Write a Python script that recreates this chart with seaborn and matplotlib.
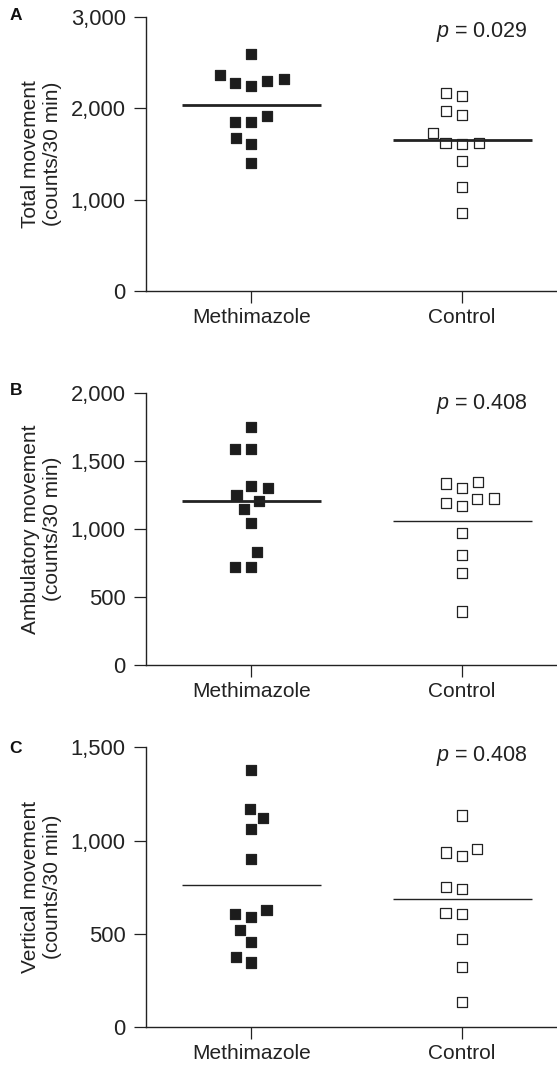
import matplotlib
matplotlib.use("Agg")
import matplotlib.pyplot as plt
import seaborn as sns
import numpy as np
import pandas as pd
from matplotlib.ticker import FuncFormatter, MultipleLocator

# ---------------- data ----------------
groups = ["Methimazole", "Control"]

total_meth = [2595, 2323, 2283, 2250, 2305, 2364, 1917, 1855, 1855, 1672, 1606, 1405]
total_ctrl = [2166, 2141, 1976, 1928, 1734, 1617, 1610, 1617, 1427, 1138, 849]

amb_meth = [1746, 1588, 1583, 1302, 1312, 1249, 1205, 1146, 1041, 832, 722, 722]
amb_ctrl = [1332, 1300, 1341, 1220, 1168, 1188, 1222, 968, 810, 676, 393]

vert_meth = [1377, 1168, 1120, 1061, 901, 628, 592, 608, 521, 458, 376, 346]
vert_ctrl = [1134, 936, 915, 956, 738, 753, 610, 605, 473, 321, 136]

panel_letters = ["A", "B", "C"]
ylabels = ["Total movement\n(counts/30 min)",
           "Ambulatory movement\n(counts/30 min)",
           "Vertical movement\n(counts/30 min)"]
p_values = ["0.029", "0.408", "0.408"]
y_max = [3000, 2000, 1500]
y_step = [1000, 500, 500]

panels = [(total_meth, total_ctrl), (amb_meth, amb_ctrl), (vert_meth, vert_ctrl)]

# ---------------- style ----------------
sns.set_theme(style="ticks")
plt.rcParams["font.family"] = ["Liberation Sans", "DejaVu Sans"]
plt.rcParams["mathtext.fontset"] = "custom"
plt.rcParams["mathtext.it"] = "Liberation Sans:italic"
plt.rcParams["mathtext.rm"] = "Liberation Sans"

INK = "#222222"
W, H = 557, 1067
fig = plt.figure(figsize=(W / 100, H / 100), dpi=100)

# axes boxes in pixels: (left, top, right, bottom)
boxes = [(146, 17.3, 557, 290.7), (146, 392.5, 557, 665.0), (146, 747.3, 557, 1027.0)]
letter_tops = [8, 383, 741]
p_y = [0.929, 0.940, 0.950]
mean_lw = [(2.0, 2.0), (2.0, 1.0), (1.0, 1.0)]

axes = []
swarms = []
for i, ((meth, ctrl), box) in enumerate(zip(panels, boxes)):
    l, t, r, b = box
    ax = fig.add_axes([l / W, 1 - b / H, (r - l) / W, (b - t) / H])
    axes.append(ax)
    df = pd.DataFrame({
        "group": [groups[0]] * len(meth) + [groups[1]] * len(ctrl),
        "value": list(meth) + list(ctrl),
    })
    n_before = len(ax.collections)
    sns.swarmplot(data=df, x="group", y="value", hue="group", order=groups,
                  hue_order=groups, palette={groups[0]: "#1c1c1c", groups[1]: "white"},
                  marker="s", size=10.5, edgecolor=INK, linewidth=0.9,
                  legend=False, ax=ax, zorder=3)
    swarms.extend(ax.collections[n_before:])

    # mean lines
    means = df.groupby("group")["value"].mean()
    for j, g in enumerate(groups):
        ax.hlines(means[g], j - 0.33, j + 0.33, color=INK, lw=mean_lw[i][j], zorder=4)

    ax.set_xlim(-0.5, 1.45)
    ax.set_ylim(0, y_max[i])
    ax.yaxis.set_major_locator(MultipleLocator(y_step[i]))
    ax.yaxis.set_major_formatter(FuncFormatter(lambda v, pos: f"{v:,.0f}"))
    ax.set_xlabel("")
    ax.set_ylabel(ylabels[i], fontsize=15, color=INK, linespacing=1.2)
    ax.yaxis.set_label_coords(-0.205, 0.5)
    sns.despine(ax=ax)
    for s in ("left", "bottom"):
        ax.spines[s].set_color(INK)
        ax.spines[s].set_linewidth(1.0)
    ax.tick_params(axis="both", length=8.5, width=0.9, color=INK,
                   labelsize=15, labelcolor=INK)
    ax.tick_params(axis="y", pad=6, labelsize=15.8)
    ax.tick_params(axis="x", pad=4)

    ax.text(0.929, p_y[i], f"$p$ = {p_values[i]}", transform=ax.transAxes,
            ha="right", va="baseline", fontsize=15.5, color=INK)

    fig.text(9.5 / W, 1 - letter_tops[i] / H, panel_letters[i], ha="left", va="top",
             fontsize=12.5, fontweight="bold", color="#111111")

# compute swarm layout with a wider footprint, then shrink the squares
fig.canvas.draw()
for coll in swarms:
    if "draw" in coll.__dict__:
        del coll.draw
    coll.set_sizes([7.3 ** 2])

fig.savefig("out.png", dpi=100)
